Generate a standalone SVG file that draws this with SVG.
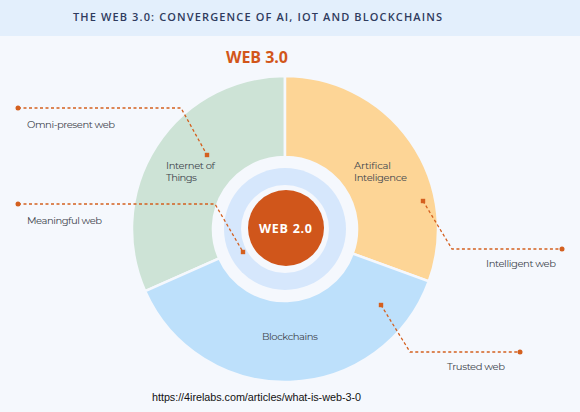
<svg xmlns="http://www.w3.org/2000/svg" width="580" height="412" viewBox="0 0 580 412">
<defs>
<style>
.bg{fill:#f5f8fd}
.lbl{font-family:"Montserrat","Open Sans","Liberation Sans",sans-serif;font-size:10px;fill:#3f454d}
.seg{stroke:#f5f8fd;stroke-width:2.5}
.lead{fill:none;stroke:#d4601f;stroke-width:1.3;stroke-dasharray:3 2.5}
</style>
<marker id="dot" markerUnits="userSpaceOnUse" markerWidth="8" markerHeight="8" refX="4" refY="4" viewBox="0 0 8 8"><circle cx="4" cy="4" r="2.5" fill="#d4601f"/></marker>
<marker id="sq" markerUnits="userSpaceOnUse" markerWidth="8" markerHeight="8" refX="4" refY="4" viewBox="0 0 8 8"><rect x="1.8" y="1.8" width="4.4" height="4.4" fill="#d4601f"/></marker>
</defs>
<rect class="bg" x="0" y="0" width="580" height="412"/>
<g id="header">
<rect x="0" y="0" width="580" height="36" fill="#e3effc"/>
<text x="257.5" y="21" text-anchor="middle" textLength="369" font-family="'Open Sans','Liberation Sans',sans-serif" font-size="11" font-weight="600" fill="#2f3b5e">THE WEB 3.0: CONVERGENCE OF AI, IOT AND BLOCKCHAINS</text>
</g>
<g id="web3-title">
<text x="257" y="63" text-anchor="middle" textLength="62" font-family="'Open Sans','Liberation Sans',sans-serif" font-size="16" font-weight="700" fill="#d2561a">WEB 3.0</text>
</g>
<g id="iot">
<path class="seg" fill="#cde3d6" d="M145.2,291.2 A153,153 0 0 1 285,76 L285,157 A72,72 0 0 0 219.2,258.3 Z"/>
<text class="lbl" x="166" y="169" textLength="49">Internet of</text>
<text class="lbl" x="166" y="181" textLength="31">Things</text>
</g>
<g id="ai">
<path class="seg" fill="#fdd596" d="M285,76 A153,153 0 0 1 428.8,281.3 L352.7,253.6 A72,72 0 0 0 285,157 Z"/>
<text class="lbl" x="354" y="169" textLength="37">Artifical</text>
<text class="lbl" x="354" y="181" textLength="53">Inteligence</text>
</g>
<g id="blockchains">
<path class="seg" fill="#bde0fb" d="M428.8,281.3 A153,153 0 0 1 145.2,291.2 L219.2,258.3 A72,72 0 0 0 352.7,253.6 Z"/>
<text class="lbl" x="262" y="340" textLength="56">Blockchains</text>
</g>
<g id="ring">
<circle cx="285" cy="229" r="61" fill="#d6e7fc"/>
<circle cx="285" cy="229" r="44" fill="#f5f8fd"/>
</g>
<g id="web2">
<circle cx="286" cy="228" r="38" fill="#d0561b"/>
<text x="285.5" y="233" text-anchor="middle" textLength="53" font-family="'Open Sans','Liberation Sans',sans-serif" font-size="12.5" font-weight="700" fill="#ffffff">WEB 2.0</text>
</g>
<g id="connectors">
<path class="lead" marker-start="url(#dot)" marker-end="url(#sq)" d="M18,108 H181 L207,155"/>
<path class="lead" marker-start="url(#dot)" marker-end="url(#sq)" d="M18,204 H215 L243,252"/>
<path class="lead" marker-start="url(#sq)" marker-end="url(#dot)" d="M423,201 L452,249 H562"/>
<path class="lead" marker-start="url(#sq)" marker-end="url(#dot)" d="M381,305 L410,352 H520"/>
</g>
<g id="omni-label"><text class="lbl" x="27" y="128" textLength="88">Omni-present web</text></g>
<g id="meaningful-label"><text class="lbl" x="27" y="224" textLength="75">Meaningful web</text></g>
<g id="intelligent-label"><text class="lbl" x="486" y="267" textLength="70">Intelligent web</text></g>
<g id="trusted-label"><text class="lbl" x="447" y="370" textLength="58">Trusted web</text></g>
<g id="source">
<text x="152" y="401" textLength="209" font-family="'Liberation Sans',Arial,sans-serif" font-size="10.8" fill="#111111">https://4irelabs.com/articles/what-is-web-3-0</text>
</g>
</svg>
